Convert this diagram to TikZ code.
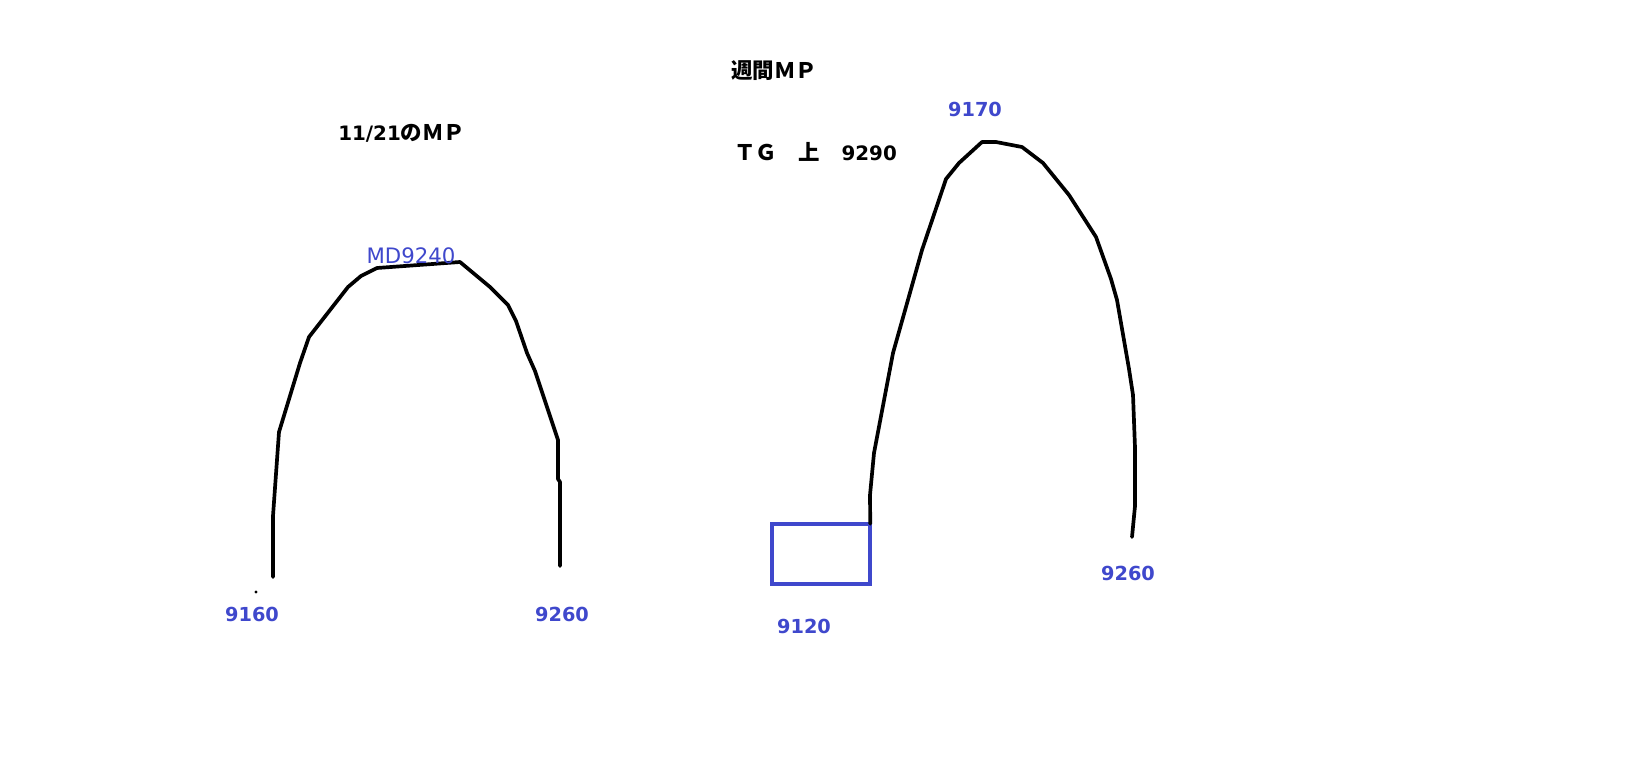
\documentclass[tikz,border=0pt]{standalone}
\usepackage{fontspec}
\setmainfont{DejaVu Sans}
\newfontfamily\jpfont[Scale=1.08]{Noto Sans CJK JP}
\definecolor{paintblue}{RGB}{63,72,204}

\begin{document}
\begin{tikzpicture}[x=0.02cm, y=-0.02cm,
        curve/.style={draw=black, line width=2.1pt, line join=round, line cap=round},
        val/.style={text=paintblue, font=\bfseries\fontsize{11}{13}\selectfont, inner sep=0, anchor=base},
        heading/.style={text=black, font=\bfseries\fontsize{11.3}{13}\selectfont, inner sep=0, anchor=base west}]
        \useasboundingbox (0, 0) rectangle (1652, 774);

        % headings
        \node[name=weekly, heading] at (731, 78) {\jpfont 週間ＭＰ};
        \node[name=tg, heading] at (734, 160) {{\jpfont ＴＧ　上　}9290};
        \node[name=daily, heading] at (338, 140) {11/21{\jpfont のＭＰ}};

        % left arch (11/21)
        \draw[curve] (273, 577) -- (273, 516) -- (279, 432) -- (300, 363) -- (309, 337) -- (348, 287) -- (361, 276) -- (377, 268)
            -- (460, 262) -- (490, 287) -- (508, 305) -- (516, 321) -- (527, 353) -- (535, 371) -- (558, 440) -- (558, 479)
            -- (560, 482) -- (560, 566);
        \fill[black] (256, 592) circle (1.6);
        \node[name=top1, val, font=\fontsize{12.1}{14}\selectfont] at (411, 263) {MD9240};
        \node[name=low1, val] at (252, 621) {9160};
        \node[name=high1, val] at (562, 621) {9260};

        % right arch (weekly)
        \node[name=start, draw=paintblue, line width=2.3pt, inner sep=0, outer sep=0, minimum width=1.97cm, minimum height=1.21cm] at (821, 554) {};
        \draw[curve] (start.north east) -- (870, 495) -- (874, 453) -- (893, 353) -- (922, 250) -- (946, 179) -- (959, 163)
            -- (982, 142) -- (996, 142) -- (1022, 147) -- (1043, 163) -- (1069, 195) -- (1096, 237) -- (1111, 279)
            -- (1117, 300) -- (1129, 369) -- (1133, 395) -- (1135, 448) -- (1135, 506) -- (1132, 537);
        \node[name=top2, val] at (975, 116) {9170};
        \node[name=low2, val] at (804, 633) {9120};
        \node[name=high2, val] at (1128, 580) {9260};
\end{tikzpicture}
\end{document}
